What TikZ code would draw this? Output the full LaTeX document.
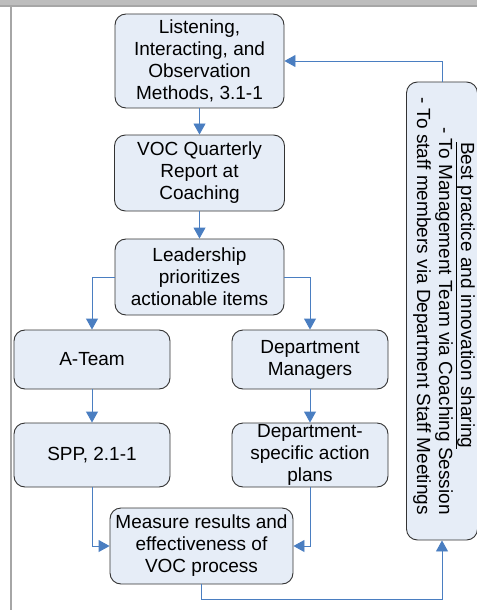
\documentclass[tikz,border=0pt]{standalone}
\usepackage{fontspec}
\setmainfont{Liberation Sans}
\usepackage{graphicx}
\usetikzlibrary{arrows.meta}
\definecolor{boxfill}{HTML}{E6EDF7}
\definecolor{boxdraw}{HTML}{333333}
\definecolor{conncol}{HTML}{4A7EC1}
\definecolor{framegray}{HTML}{BDBDBD}
\definecolor{framedark}{HTML}{A6A6A6}
\tikzset{
  flowbox/.style={draw=boxdraw, fill=boxfill, line width=0.9bp, rounded corners=11bp,
    align=center, inner sep=1bp, font=\fontsize{19bp}{22bp}\selectfont},
  conn/.style={draw=conncol, line width=0.9bp, -{Triangle[width=12bp,length=11bp]}},
}
\begin{document}
\begin{tikzpicture}[x=1bp,y=-1bp]
\useasboundingbox (0,0) rectangle (477,610);
% frame
\fill[framegray] (0,0) rectangle (477,6);
\fill[framedark] (0,5.5) rectangle (477,7);
\fill[framedark] (10,6) rectangle (12,610);
% nodes
\node[flowbox, minimum width=169bp, minimum height=94bp] (listen) at (199.5,61)
  {Listening,\\Interacting, and\\Observation\\Methods, 3.1-1};
\node[flowbox, minimum width=170bp, minimum height=76bp] (voc) at (199.5,173)
  {VOC Quarterly\\Report at\\Coaching};
\node[flowbox, minimum width=169bp, minimum height=76bp] (lead) at (199.5,277)
  {Leadership\\prioritizes\\actionable items};
\node[flowbox, minimum width=156bp, minimum height=59bp] (ateam) at (92,359.5)
  {A-Team};
\node[flowbox, minimum width=156bp, minimum height=59bp] (dm) at (310,359.5)
  {Department\\Managers};
\node[flowbox, minimum width=156bp, minimum height=64bp] (spp) at (92,455)
  {SPP, 2.1-1};
\node[flowbox, minimum width=156bp, minimum height=64bp] (dsap) at (310,455)
  {Department-\\specific action\\plans};
\node[flowbox, minimum width=183bp, minimum height=76bp] (meas) at (201.5,546)
  {Measure results and\\effectiveness of\\VOC process};
\node[flowbox, minimum width=68bp, minimum height=458bp] (share) at (442,311)
  {\hspace*{3bp}\rotatebox{-90}{\begin{tabular}{@{}l@{}}
    \hspace*{45bp}\underline{Best practice and innovation sharing}\\
    \hspace*{30bp}- To Management Team via Coaching Session\\
    - To staff members via Department Staff Meetings\hspace*{10bp}
  \end{tabular}}};
% connectors
\draw[conn] (listen) -- (voc);
\draw[conn] (voc) -- (lead);
\draw[conn] (lead.west) -| (ateam.north);
\draw[conn] (lead.east) -| (dm.north);
\draw[conn] (ateam) -- (spp);
\draw[conn] (dm) -- (dsap);
\draw[conn] (spp.south) |- (meas.west);
\draw[conn] (dsap.south) |- (meas.east);
\draw[conn] (meas.south) -- ++(0,15) -| (share.south);
\draw[conn] (share.north) |- (listen.east);
\end{tikzpicture}
\end{document}
